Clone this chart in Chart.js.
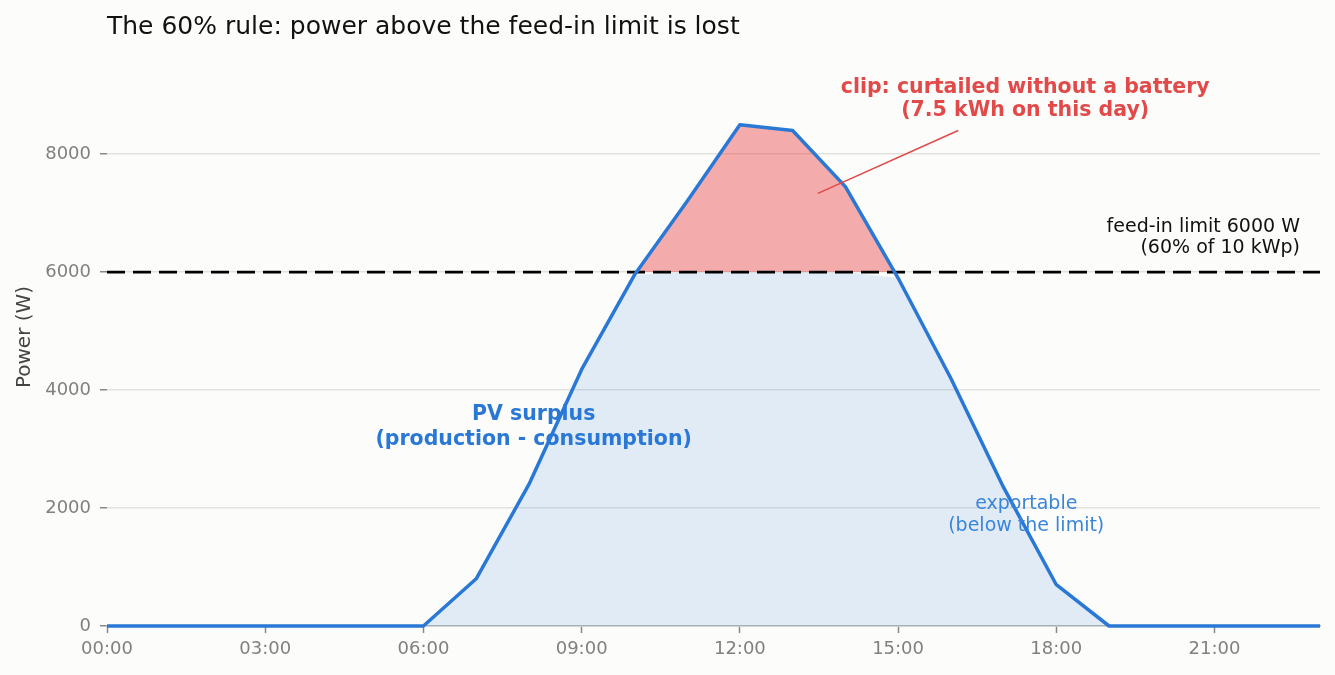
<!DOCTYPE html>
<html>
<head>
<meta charset="utf-8">
<title>The 60% rule</title>
<script src="https://cdn.jsdelivr.net/npm/chart.js@4.4.1/dist/chart.umd.min.js"></script>
<style>
  html, body { margin: 0; padding: 0; background: #fcfcfb; }
  #wrap { width: 1335px; height: 675px; position: relative; }
</style>
</head>
<body>
<div id="wrap"><canvas id="chart"></canvas></div>
<script>
// hourly PV surplus (production - consumption), W
const hours = ['00:00', '01:00', '02:00', '03:00', '04:00', '05:00', '06:00', '07:00',
               '08:00', '09:00', '10:00', '11:00', '12:00', '13:00', '14:00', '15:00',
               '16:00', '17:00', '18:00', '19:00', '20:00', '21:00', '22:00', '23:00'];
const surplus = [0, 0, 0, 0, 0, 0, 0, 800, 2400, 4350, 5950, 7200,
                 8500, 8400, 7450, 5900, 4200, 2350, 700, 0, 0, 0, 0, 0];
const feedInLimit = 6000;
const yTicks = [0, 2000, 4000, 6000, 8000];
const xTickEvery = 3;

const limitLine = hours.map(() => feedInLimit);
const exportable = surplus.map(v => Math.min(v, feedInLimit));

const FONT = '"DejaVu Sans", sans-serif';
const BLUE = '#2a78d6';
const RED = '#e24a4a';

// text labels placed in data coordinates (hour index, W)
const notes = [
  { lines: ['clip: curtailed without a battery', '(7.5 kWh on this day)'], x: 17.41, y: [9135, 8730],
    color: RED, font: 'bold 20.5px ' + FONT, align: 'center' },
  { lines: ['feed-in limit 6000 W', '(60% of 10 kWp)'], x: 22.62, y: [6770, 6415],
    color: '#111', font: '19px ' + FONT, align: 'right' },
  { lines: ['PV surplus', '(production - consumption)'], x: 8.09, y: [3580, 3160],
    color: BLUE, font: 'bold 20.5px ' + FONT, align: 'center' },
  { lines: ['exportable', '(below the limit)'], x: 17.43, y: [2075, 1697],
    color: '#3a85da', font: '19px ' + FONT, align: 'center' }
];
const arrow = { from: [16.14, 8400], to: [13.48, 7335] };

const notesPlugin = {
  id: 'notes',
  afterDraw(chart) {
    const { ctx, scales: { x, y } } = chart;
    ctx.save();
    ctx.strokeStyle = RED;
    ctx.lineWidth = 1.6;
    ctx.beginPath();
    ctx.moveTo(x.getPixelForValue(arrow.from[0]), y.getPixelForValue(arrow.from[1]));
    ctx.lineTo(x.getPixelForValue(arrow.to[0]), y.getPixelForValue(arrow.to[1]));
    ctx.stroke();
    ctx.textBaseline = 'middle';
    notes.forEach(n => {
      ctx.font = n.font;
      ctx.fillStyle = n.color;
      ctx.textAlign = n.align;
      n.lines.forEach((t, i) => {
        ctx.fillText(t, x.getPixelForValue(n.x), y.getPixelForValue(n.y[i]));
      });
    });
    ctx.restore();
  }
};

new Chart(document.getElementById('chart'), {
  type: 'line',
  data: {
    labels: hours,
    datasets: [
      {
        label: 'PV surplus',
        data: surplus,
        borderColor: BLUE,
        borderWidth: 3.5,
        borderJoinStyle: 'round',
        pointRadius: 0,
        fill: false,
        clip: 6,
        order: 1
      },
      {
        label: 'feed-in limit',
        data: limitLine,
        borderColor: '#000',
        borderWidth: 2.8,
        borderDash: [18, 8],
        pointRadius: 0,
        fill: false,
        order: 2
      },
      {
        label: 'clip',
        data: surplus,
        borderColor: 'rgba(0,0,0,0)',
        pointRadius: 0,
        fill: { target: { value: feedInLimit }, above: 'rgba(230,60,60,0.42)', below: 'rgba(0,0,0,0)' },
        order: 3
      },
      {
        label: 'exportable',
        data: exportable,
        borderColor: 'rgba(0,0,0,0)',
        backgroundColor: 'rgba(42,120,214,0.13)',
        pointRadius: 0,
        fill: 'origin',
        order: 4
      }
    ]
  },
  options: {
    responsive: true,
    maintainAspectRatio: false,
    animation: false,
    layout: { padding: { left: 0, right: 15, top: 0, bottom: 0 } },
    plugins: {
      legend: { display: false },
      tooltip: { enabled: false },
      title: {
        display: true,
        text: 'The 60% rule: power above the feed-in limit is lost',
        align: 'start',
        fullSize: false,
        color: '#111',
        font: { family: FONT, size: 25, weight: 'normal' },
        padding: { top: 12, bottom: 6 }
      }
    },
    scales: {
      x: {
        afterFit: s => { s.height = 49; },
        afterBuildTicks: axis => {
          axis.ticks = axis.ticks.filter(t => t.value % xTickEvery === 0);
        },
        grid: { drawOnChartArea: false, drawTicks: true, tickLength: 7, tickColor: '#888', tickWidth: 1.5 },
        border: { display: true, color: '#b8b8b4', width: 1.5 },
        ticks: { autoSkip: false, maxRotation: 0, padding: 6, color: '#808080', font: { family: FONT, size: 18 } }
      },
      y: {
        min: 0,
        max: 9800,
        afterFit: s => { s.width = 107; },
        afterBuildTicks: axis => { axis.ticks = yTicks.map(v => ({ value: v })); },
        grid: { color: '#e2e2de', lineWidth: 1.5, tickLength: 7, tickColor: '#888', tickWidth: 1.5 },
        border: { display: false },
        ticks: {
          padding: 9,
          color: '#808080',
          font: { family: FONT, size: 18 },
          callback: v => String(v)
        },
        title: {
          display: true,
          text: 'Power (W)',
          color: '#444',
          font: { family: FONT, size: 20 },
          padding: { top: 13, bottom: 0 }
        }
      }
    }
  },
  plugins: [notesPlugin]
});
</script>
</body>
</html>
